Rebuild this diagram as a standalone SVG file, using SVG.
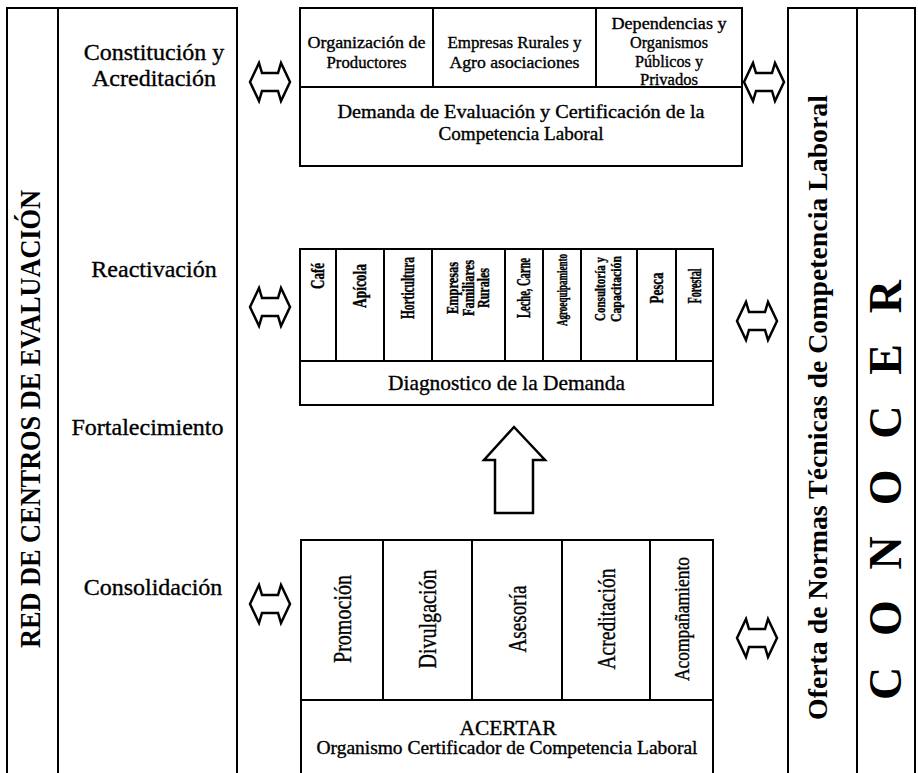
<svg xmlns="http://www.w3.org/2000/svg" width="918" height="773" viewBox="0 0 918 773">
<style>
.ln{fill:none;stroke:#000;stroke-width:2}
.bx{fill:#fff;stroke:#000;stroke-width:2}
.t{font-family:"Liberation Serif","Times New Roman",serif;fill:#000;text-anchor:middle}
.r{stroke:#000;stroke-width:0.35}
.b{font-weight:bold}
.bs{stroke:#000;stroke-width:0.4}
.arw{fill:#fff;stroke:#000;stroke-width:2.5;stroke-linejoin:miter}
</style>
<defs>
<path id="dbl" d="M-20,0 L-11,-19 L-8,-9 L8,-9 L11,-19 L20,0 L11,19 L8,9 L-8,9 L-11,19 Z"/>
</defs>
<rect width="918" height="773" fill="#fff"/>

<g id="red-centros">
<path class="ln" d="M7,773 V8 H237 V773"/>
<line class="ln" x1="58" y1="8" x2="58" y2="773"/>
<text class="t b" font-size="29" transform="translate(40,419) rotate(-90)" textLength="458" lengthAdjust="spacingAndGlyphs">RED DE CENTROS DE EVALUACIÓN</text>
<g class="t r" font-size="24">
<text x="154" y="60">Constitución y</text>
<text x="154" y="86">Acreditación</text>
<text x="154" y="277">Reactivación</text>
<text x="147.5" y="435">Fortalecimiento</text>
<text x="153" y="595">Consolidación</text>
</g>
</g>

<g id="demanda">
<rect class="bx" x="300" y="8" width="442" height="158"/>
<line class="ln" x1="300" y1="87" x2="742" y2="87"/>
<line class="ln" x1="433" y1="8" x2="433" y2="87"/>
<line class="ln" x1="596" y1="8" x2="596" y2="87"/>
<g class="t r">
<text font-size="17" x="366.5" y="48" textLength="118" lengthAdjust="spacingAndGlyphs">Organización de</text>
<text font-size="17" x="366.5" y="68" textLength="80" lengthAdjust="spacingAndGlyphs">Productores</text>
<text font-size="17" x="514.5" y="48" textLength="134" lengthAdjust="spacingAndGlyphs">Empresas Rurales y</text>
<text font-size="17" x="514.5" y="68" textLength="130" lengthAdjust="spacingAndGlyphs">Agro asociaciones</text>
<text font-size="16" x="669" y="29" textLength="115" lengthAdjust="spacingAndGlyphs">Dependencias y</text>
<text font-size="16" x="669" y="48" textLength="78" lengthAdjust="spacingAndGlyphs">Organismos</text>
<text font-size="16" x="669" y="67" textLength="68" lengthAdjust="spacingAndGlyphs">Públicos y</text>
<text font-size="16" x="669" y="85" textLength="58" lengthAdjust="spacingAndGlyphs">Privados</text>
<text font-size="18" x="521" y="118" textLength="367" lengthAdjust="spacingAndGlyphs">Demanda de Evaluación y Certificación de la</text>
<text font-size="18" x="521" y="140" textLength="165" lengthAdjust="spacingAndGlyphs">Competencia Laboral</text>
</g>
</g>

<g id="diagnostico">
<rect class="bx" x="300" y="249" width="413" height="156"/>
<line class="ln" x1="300" y1="361" x2="713" y2="361"/>
<path class="ln" d="M336,249V361M384,249V361M432,249V361M505,249V361M543,249V361M581,249V361M637,249V361M676,249V361"/>
<g class="t b bs" font-size="18">
<text transform="translate(324,276) rotate(-90)" textLength="26" lengthAdjust="spacingAndGlyphs">Café</text>
<text transform="translate(366,286) rotate(-90)" textLength="44" lengthAdjust="spacingAndGlyphs">Apícola</text>
<text transform="translate(414,288) rotate(-90)" textLength="62" lengthAdjust="spacingAndGlyphs">Horticultura</text>
<text transform="translate(458,288) rotate(-90)" font-size="16" textLength="52" lengthAdjust="spacingAndGlyphs">Empresas</text>
<text transform="translate(473.5,288) rotate(-90)" font-size="16" textLength="56" lengthAdjust="spacingAndGlyphs">Familiares</text>
<text transform="translate(489,288) rotate(-90)" font-size="16" textLength="40" lengthAdjust="spacingAndGlyphs">Rurales</text>
<text transform="translate(530,288) rotate(-90)" textLength="60" lengthAdjust="spacingAndGlyphs">Leche, Carne</text>
<text transform="translate(567,290) rotate(-90)" font-size="14" textLength="72" lengthAdjust="spacingAndGlyphs">Agroequipamiento</text>
<text transform="translate(605,289) rotate(-90)" font-size="15" textLength="64" lengthAdjust="spacingAndGlyphs">Consultoría y</text>
<text transform="translate(621,289) rotate(-90)" font-size="15" textLength="66" lengthAdjust="spacingAndGlyphs">Capacitación</text>
<text transform="translate(663,288) rotate(-90)" textLength="31" lengthAdjust="spacingAndGlyphs">Pesca</text>
<text transform="translate(701,286) rotate(-90)" textLength="35" lengthAdjust="spacingAndGlyphs">Forestal</text>
</g>
<text class="t r" font-size="22" x="506.5" y="390" textLength="237" lengthAdjust="spacingAndGlyphs">Diagnostico de la Demanda</text>
</g>

<g id="acertar">
<path class="ln" d="M301,773 V540 H713 V773"/>
<line class="ln" x1="301" y1="700" x2="713" y2="700"/>
<path class="ln" d="M383,540V700M472,540V700M562,540V700M650,540V700"/>
<g class="t r" font-size="25">
<text transform="translate(351,619) rotate(-90)" textLength="88" lengthAdjust="spacingAndGlyphs">Promoción</text>
<text transform="translate(436,619) rotate(-90)" textLength="99" lengthAdjust="spacingAndGlyphs">Divulgación</text>
<text transform="translate(526,619) rotate(-90)" textLength="67" lengthAdjust="spacingAndGlyphs">Asesoría</text>
<text transform="translate(615,619) rotate(-90)" textLength="101" lengthAdjust="spacingAndGlyphs">Acreditación</text>
<text transform="translate(689,619) rotate(-90)" font-size="21" textLength="124" lengthAdjust="spacingAndGlyphs">Acompañamiento</text>
</g>
<text class="t r" font-size="21" x="508" y="735" textLength="97" lengthAdjust="spacingAndGlyphs">ACERTAR</text>
<text class="t r" font-size="18" x="507" y="754" textLength="381" lengthAdjust="spacingAndGlyphs">Organismo Certificador de Competencia Laboral</text>
</g>

<g id="conocer">
<path class="ln" d="M788,773 V8 H915 V773"/>
<line class="ln" x1="857" y1="8" x2="857" y2="773"/>
<text class="t b" font-size="27" transform="translate(827,407.5) rotate(-90)" textLength="625" lengthAdjust="spacingAndGlyphs">Oferta de Normas Técnicas de Competencia Laboral</text>
<text class="t b" font-size="46" transform="translate(901,490) rotate(-90)" textLength="420" lengthAdjust="spacing">C O N O C E R</text>
</g>

<g id="connectors">
<use href="#dbl" class="arw" x="270" y="82"/>
<use href="#dbl" class="arw" x="270" y="307"/>
<use href="#dbl" class="arw" x="270" y="604"/>
<use href="#dbl" class="arw" x="764" y="82"/>
<use href="#dbl" class="arw" x="757" y="321"/>
<use href="#dbl" class="arw" x="757" y="638"/>
<polygon class="arw" points="514,427 545,460 533,460 533,513 495,513 495,460 484,460"/>
</g>
</svg>
